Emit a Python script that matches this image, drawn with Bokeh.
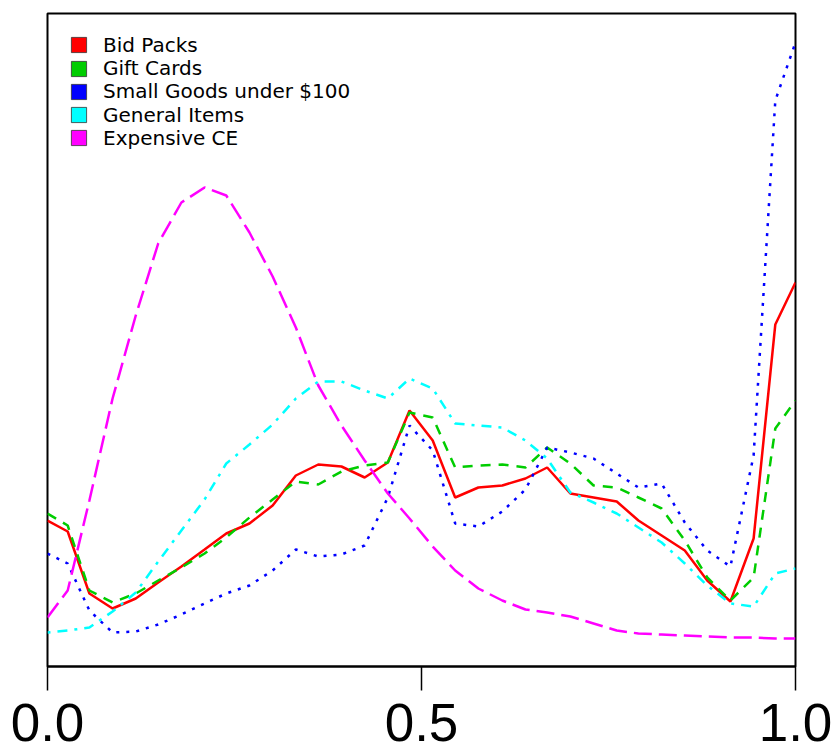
from bokeh.plotting import figure
from bokeh.models import Range1d, FixedTicker, Legend, LegendItem, NumeralTickFormatter
from bokeh.embed import file_html
from bokeh.resources import INLINE

nan = float("nan")

# x positions (fraction of auction duration)
x = [0.0, 0.027, 0.056, 0.087, 0.118, 0.148, 0.179, 0.210, 0.239, 0.270,
     0.301, 0.332, 0.362, 0.393, 0.424, 0.455, 0.484, 0.515, 0.545, 0.576,
     0.608, 0.639, 0.668, 0.699, 0.730, 0.761, 0.790, 0.821, 0.852, 0.882,
     0.913, 0.944, 0.973, 1.0]

bid_packs = [0.59, 0.535, 0.225, 0.15, 0.20, 0.28, 0.36, 0.445, 0.525, 0.575,
             0.665, 0.815, 0.87, 0.86, 0.805, 0.88, 1.14, 0.99, 0.705, 0.755,
             0.765, 0.80, 0.855, 0.725, 0.705, 0.685, 0.59, 0.515, 0.44, 0.29,
             0.185, 0.50, 1.57, 1.78]

gift_cards = [0.625, 0.565, 0.24, 0.18, 0.225, 0.29, 0.355, 0.425, 0.505, 0.605,
              0.695, 0.785, 0.77, 0.835, 0.865, 0.88, 1.13, 1.105, 0.855, 0.865,
              0.87, 0.855, 0.955, 0.875, 0.765, 0.755, 0.705, 0.65, 0.49, 0.305,
              0.19, 0.305, 1.05, 1.19]

small_goods = [0.425, 0.375, 0.14, 0.03, 0.035, 0.07, 0.12, 0.175, 0.225, 0.265,
               0.34, 0.445, 0.41, 0.42, 0.465, 0.705, 1.065, 0.94, 0.575, 0.56,
               0.635, 0.745, 0.955, 0.93, 0.90, 0.825, 0.755, 0.775, 0.58, 0.44,
               0.36, 0.915, 2.69, 2.98]

general_items = [0.03, 0.04, 0.055, 0.135, 0.23, 0.385, 0.54, 0.695, 0.875, 0.97,
                 1.07, 1.20, 1.285, 1.285, 1.24, 1.20, 1.30, 1.25, 1.075, 1.065,
                 1.055, 0.99, 0.90, 0.73, 0.68, 0.625, 0.555, 0.48, 0.375, 0.265,
                 0.175, 0.16, 0.325, 0.35]

expensive_ce = [0.105, 0.24, 0.69, 1.20, 1.615, 1.975, 2.18, 2.255, 2.215, 2.03,
                1.81, 1.555, 1.265, 1.065, 0.89, 0.725, 0.60, 0.46, 0.34, 0.25,
                0.19, 0.145, 0.13, 0.11, 0.075, 0.04, 0.025, 0.02, 0.015, 0.01,
                0.005, 0.005, 0.0, 0.0]

names = ["Bid Packs", "Gift Cards", "Small Goods under $100", "General Items", "Expensive CE"]
values = [bid_packs, gift_cards, small_goods, general_items, expensive_ce]
colors = ["#FF0000", "#00CD00", "#0000FF", "#00FFFF", "#FF00FF"]
dashes = ["solid", "10 8", "3 7", "3 7 10 7", "18 7"]

p = figure(width=833, height=756, output_backend="svg", toolbar_location=None,
           x_range=Range1d(0, 1), y_range=Range1d(-0.14, 3.125),
           min_border_left=47, min_border_right=38, min_border_top=13,
           min_border_bottom=90, y_axis_location=None)
p.xgrid.visible = False
p.ygrid.visible = False
p.outline_line_color = "black"
p.outline_line_width = 2
p.outline_line_alpha = 1
p.background_fill_color = "white"
p.border_fill_color = "white"

ax = p.xaxis[0]
ax.ticker = FixedTicker(ticks=[0.0, 0.5, 1.0])
ax.formatter = NumeralTickFormatter(format="0.0")
ax.axis_line_width = 2
ax.axis_line_color = "black"
ax.major_tick_line_width = 1.5
ax.major_tick_line_color = "black"
ax.major_tick_out = 24
ax.major_tick_in = 0
ax.minor_tick_out = 0
ax.minor_tick_in = 0
ax.major_label_text_font = "Liberation Sans"
ax.major_label_text_font_size = "53px"
ax.major_label_text_color = "black"
ax.major_label_standoff = 13

for v, c, d in zip(values, colors, dashes):
    p.line(x, v, line_color=c, line_width=2.5, line_dash=d)

# legend: one row per entry so the rows can sit ~23px apart
for i, (n, c) in enumerate(zip(names, colors)):
    r = p.quad(left=[nan], right=[nan], top=[nan], bottom=[nan], fill_color=c,
               line_color="#333333", line_width=0.8)
    lg = Legend(items=[LegendItem(label=n, renderers=[r])],
                location=(22, 609.3 - 23.3 * i), glyph_width=19, glyph_height=19,
                label_text_font="DejaVu Sans", label_text_font_size="20px",
                label_text_color="black", spacing=0, padding=0, margin=0,
                label_standoff=15, label_height=19,
                border_line_alpha=0, background_fill_alpha=0)
    p.add_layout(lg)

open("out.html", "w").write(file_html(p, INLINE))
